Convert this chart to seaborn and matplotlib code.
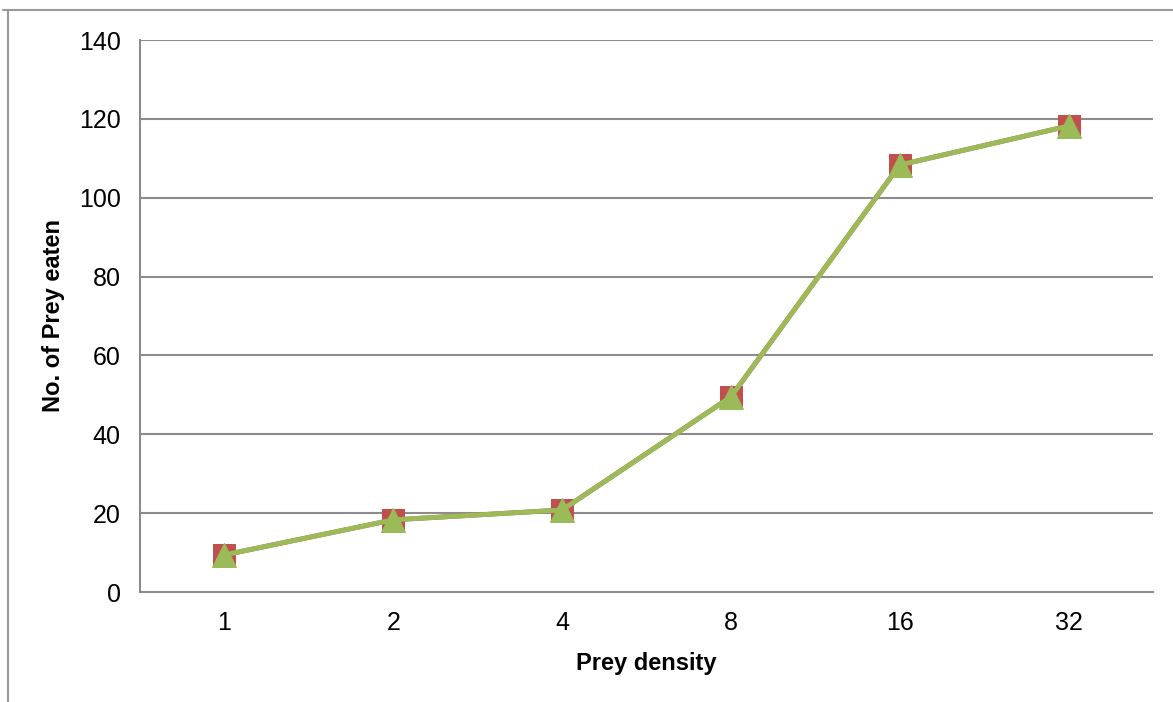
import matplotlib
matplotlib.use("Agg")
import matplotlib.pyplot as plt
import seaborn as sns
import pandas as pd
from matplotlib.lines import Line2D

# Prey density categories and mean number of prey eaten
densities = ["1", "2", "4", "8", "16", "32"]
eaten_a = [9.4, 18.3, 20.8, 49.5, 108.3, 118.2]
eaten_b = [9.4, 18.3, 20.8, 49.5, 108.3, 118.2]

sns.set_theme(style="white")
plt.rcParams["font.family"] = ["Liberation Sans Narrow", "Liberation Sans", "DejaVu Sans"]
plt.rcParams["text.color"] = "black"
plt.rcParams["axes.labelcolor"] = "black"
plt.rcParams["xtick.color"] = "black"
plt.rcParams["ytick.color"] = "black"

df = pd.DataFrame({
    "density": densities * 2,
    "eaten": eaten_a + eaten_b,
    "series": ["A"] * len(densities) + ["B"] * len(densities),
})
df["pos"] = list(range(len(densities))) * 2

fig = plt.figure(figsize=(11.73, 7.02), dpi=100)
ax = fig.add_axes([140 / 1173, 1 - 592 / 702, (1153 - 140) / 1173, (592 - 40) / 702])

grid_c = "#8c8c8c"
for v in range(20, 141, 20):
    ax.axhline(v, color=grid_c, lw=1.5, zorder=0)

sns.lineplot(data=df[df.series == "A"], x="pos", y="eaten", ax=ax, color="#C0504D",
             lw=3.5, marker="s", markersize=16, markeredgecolor="#C0504D", zorder=2,
             legend=False)
sns.lineplot(data=df[df.series == "B"], x="pos", y="eaten", ax=ax, color="#9BBB59",
             lw=3.5, marker="^", markersize=17, markeredgecolor="#9BBB59", zorder=3,
             legend=False)

ax.set_xlim(-0.5, len(densities) - 0.5)
ax.set_ylim(0, 140)
ax.set_yticks(range(0, 141, 20))
ax.set_xticks(range(len(densities)))
ax.set_xticklabels(densities)
ax.set_xticks([i - 0.5 for i in range(len(densities) + 1)], minor=True)
ax.tick_params(axis="x", which="major", length=0, pad=14, labelsize=18, labelcolor="black")
ax.tick_params(axis="x", which="minor", length=8, width=1.5, color=grid_c, direction="out")
ax.tick_params(axis="y", length=8, width=1.5, color=grid_c, direction="out", pad=6,
               labelsize=18, labelcolor="black")

for s in ["top", "right"]:
    ax.spines[s].set_visible(False)
for s in ["left", "bottom"]:
    ax.spines[s].set_color(grid_c)
    ax.spines[s].set_linewidth(1.5)

ax.set_xlabel("Prey density", fontsize=17, fontweight="bold", labelpad=12, color="black")
ax.set_ylabel("No. of Prey eaten", fontsize=17, fontweight="bold", labelpad=10, color="black")

# Outer frame lines
fig.add_artist(Line2D([8 / 1173, 8 / 1173], [1 - 10 / 702, 0], color="#999999", lw=1.5))
fig.add_artist(Line2D([3 / 1173, 1], [1 - 10 / 702, 1 - 10 / 702], color="#999999", lw=1.5))

fig.savefig("out.png", dpi=100)
